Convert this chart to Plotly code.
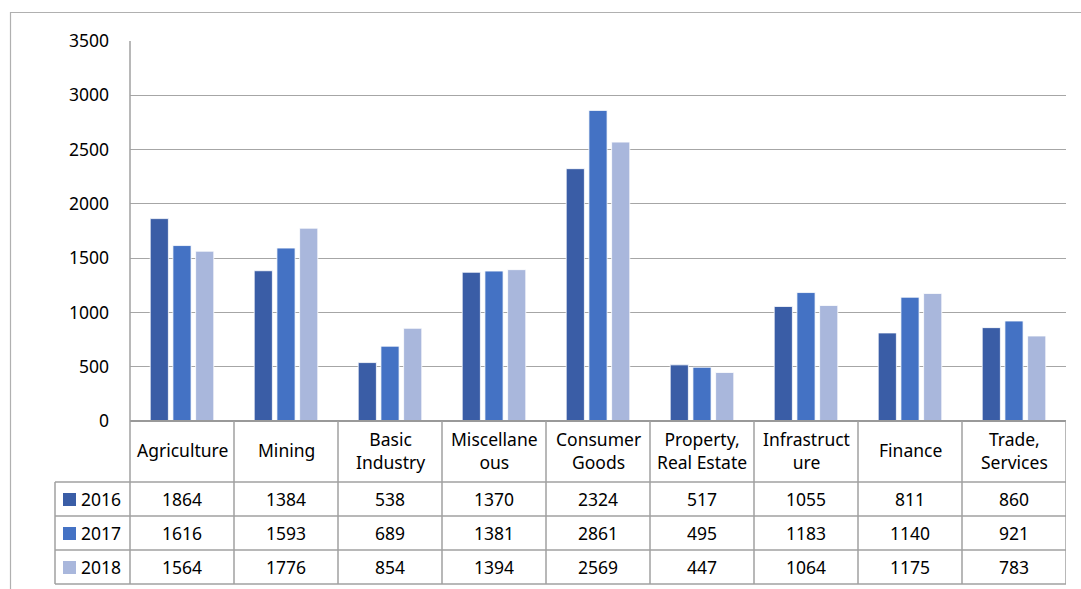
import plotly.graph_objects as go

W, H = 1081, 589

categories = ["Agriculture", "Mining", "Basic Industry", "Miscellaneous", "Consumer Goods",
              "Property, Real Estate", "Infrastructure", "Finance", "Trade, Services"]
header_labels = ["Agriculture", "Mining", "Basic<br>Industry", "Miscellane<br>ous", "Consumer<br>Goods",
                 "Property,<br>Real Estate", "Infrastruct<br>ure", "Finance", "Trade,<br>Services"]
years = ["2016", "2017", "2018"]
values_2016 = [1864, 1384, 538, 1370, 2324, 517, 1055, 811, 860]
values_2017 = [1616, 1593, 689, 1381, 2861, 495, 1183, 1140, 921]
values_2018 = [1564, 1776, 854, 1394, 2569, 447, 1064, 1175, 783]
y_ticks = [0, 500, 1000, 1500, 2000, 2500, 3000, 3500]

series = [values_2016, values_2017, values_2018]
colors = ["#3a5da6", "#4472c4", "#a9b7dc"]

FONT = "Noto Sans"
FS = 17.5
GRID = "#a6a6a6"
LINE = "#a0a0a0"

# pixel geometry of the plot area and data table
X0, X1 = 130, 1066          # plot area left/right
Y_TOP, Y_ZERO = 41, 421      # 3500 and 0
ROW_Y = [421, 482, 516, 550, 584]   # header top, row borders
LEG_X = 55


def px(x):
    return x / W


def py(y):
    return 1 - y / H


fig = go.Figure()
for name, vals, col in zip(years, series, colors):
    fig.add_trace(go.Bar(
        x=list(range(len(categories))), y=vals, name=name,
        marker=dict(color=col, line=dict(color="white", width=0.8)),
        hovertext=categories,
    ))

shapes = []
ann = []

# outer chart frame (left and top edges)
shapes.append(dict(type="line", xref="paper", yref="paper", x0=px(10.5), x1=px(10.5),
                   y0=py(12), y1=0, line=dict(color="#b0b0b0", width=1.2)))
shapes.append(dict(type="line", xref="paper", yref="paper", x0=px(10.5), x1=1,
                   y0=py(12.5), y1=py(12.5), line=dict(color="#b0b0b0", width=1.2)))

# data table grid: horizontal rules
shapes.append(dict(type="line", xref="paper", yref="paper", x0=px(X0), x1=px(X1),
                   y0=py(ROW_Y[0]), y1=py(ROW_Y[0]), line=dict(color="#999999", width=2)))
for y in ROW_Y[1:]:
    shapes.append(dict(type="line", xref="paper", yref="paper", x0=px(LEG_X), x1=px(X1),
                       y0=py(y), y1=py(y), line=dict(color=LINE, width=1.5)))
# vertical rules
shapes.append(dict(type="line", xref="paper", yref="paper", x0=px(LEG_X), x1=px(LEG_X),
                   y0=py(ROW_Y[1]), y1=py(ROW_Y[-1]), line=dict(color=LINE, width=1.5)))
shapes.append(dict(type="line", xref="paper", yref="paper", x0=px(X0), x1=px(X0),
                   y0=py(Y_TOP), y1=py(ROW_Y[-1]), line=dict(color=LINE, width=1.5)))
for i in range(len(categories)):
    xb = i + 0.5
    shapes.append(dict(type="line", xref="x", yref="paper", x0=xb, x1=xb,
                       y0=py(ROW_Y[0]), y1=py(ROW_Y[-1]), line=dict(color=LINE, width=1.5)))

# header labels
for i, lab in enumerate(header_labels):
    ann.append(dict(x=i, y=py((ROW_Y[0] + ROW_Y[1]) / 2 - 1), xref="x", yref="paper",
                    text=lab, showarrow=False, xanchor="center", yanchor="middle",
                    font=dict(family=FONT, size=FS, color="black")))

# value rows with legend keys
for r, (name, vals, col) in enumerate(zip(years, series, colors)):
    yc = (ROW_Y[r + 1] + ROW_Y[r + 2]) / 2
    for i, v in enumerate(vals):
        ann.append(dict(x=i, y=py(yc), xref="x", yref="paper", text=str(v),
                        showarrow=False, xanchor="center", yanchor="middle",
                        font=dict(family=FONT, size=FS, color="black")))
    shapes.append(dict(type="rect", xref="paper", yref="paper", x0=px(63), x1=px(76),
                       y0=py(yc - 6), y1=py(yc + 7), fillcolor=col, line=dict(width=0)))
    ann.append(dict(x=px(79), y=py(yc), xref="paper", yref="paper", text=name,
                    showarrow=False, xanchor="left", yanchor="middle",
                    font=dict(family=FONT, size=FS, color="black")))

fig.update_layout(
    width=W, height=H,
    margin=dict(l=0, r=0, t=0, b=0, autoexpand=False),
    paper_bgcolor="white", plot_bgcolor="white",
    barmode="group", bargap=0.345, bargroupgap=0.2,
    showlegend=False,
    shapes=shapes, annotations=ann,
    xaxis=dict(domain=[px(X0), px(X1)], range=[-0.5, len(categories) - 0.5],
               showticklabels=False, showgrid=False, zeroline=False, showline=False,
               automargin=False, fixedrange=True),
    yaxis=dict(domain=[py(Y_ZERO), py(Y_TOP)], range=[0, 3500], tickvals=y_ticks,
               showgrid=True, gridcolor=GRID, gridwidth=1.2, zeroline=False,
               showline=False, ticks="", ticklabelstandoff=20, automargin=False,
               tickfont=dict(family=FONT, size=FS, color="black")),
)

fig.write_html("out.html")
